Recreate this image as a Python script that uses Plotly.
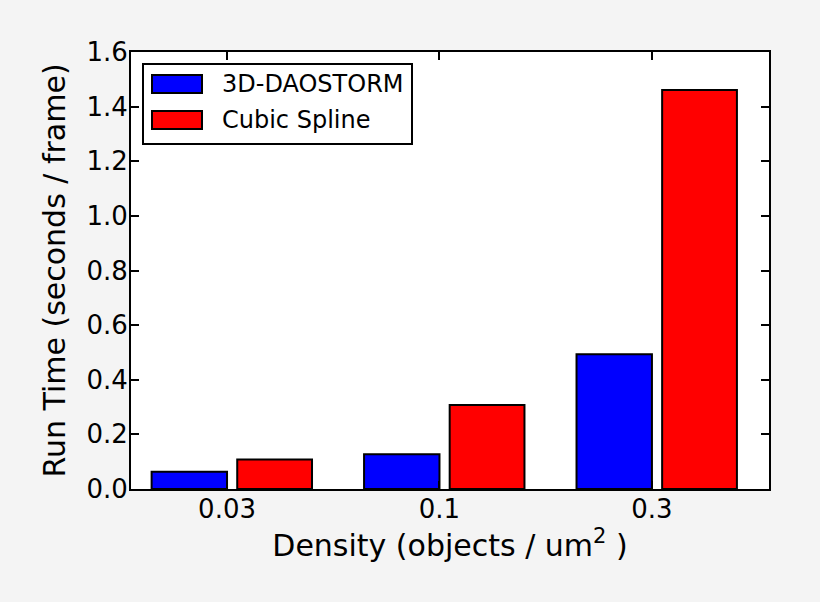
import plotly.graph_objects as go

categories = ["0.03", "0.1", "0.3"]
daostorm = [0.063, 0.127, 0.493]
spline = [0.108, 0.308, 1.461]
series_names = ["3D-DAOSTORM", "Cubic Spline"]
series_colors = ["#0000ff", "#ff0000"]
y_ticks = [0.0, 0.2, 0.4, 0.6, 0.8, 1.0, 1.2, 1.4, 1.6]
x_title = "Density (objects / um<sup>2</sup> )"
y_title = "Run Time (seconds / frame)"

W, H = 820, 602
ML, MR, MT, MB = 131, 51, 52, 113
PW, PH = W - ML - MR, H - MT - MB


def px(xp):
    return (xp - ML) / PW


def py(yp):
    return 1 - (yp - MT) / PH


idx = list(range(len(categories)))
bar_widths = [0.355, 0.352]
offsets = [-0.355, 0.048]

fig = go.Figure()
for name, vals, col, off, bw in zip(series_names, [daostorm, spline], series_colors, offsets, bar_widths):
    fig.add_trace(go.Bar(
        x=idx, y=vals, name=name, width=bw, offset=off,
        marker=dict(color=col, line=dict(color="black", width=2)),
        showlegend=False,
    ))

font_family = "DejaVu Sans"

# legend (box, patches, labels)
shapes = [dict(type="rect", xref="paper", yref="paper",
               x0=px(143), x1=px(412), y0=py(144), y1=py(64),
               fillcolor="white", line=dict(color="black", width=2), layer="above")]
annotations = []
rows = [84, 120]
for name, col, yc in zip(series_names, series_colors, rows):
    shapes.append(dict(type="rect", xref="paper", yref="paper",
                       x0=px(152), x1=px(202), y0=py(yc + 9), y1=py(yc - 9),
                       fillcolor=col, line=dict(color="black", width=2), layer="above"))
    annotations.append(dict(xref="paper", yref="paper", x=px(220), y=py(yc),
                            xanchor="left", yanchor="middle", showarrow=False,
                            text=name, font=dict(size=24, family=font_family, color="black")))

fig.update_layout(
    width=W, height=H,
    margin=dict(l=ML, r=MR, t=MT, b=MB),
    paper_bgcolor="#f4f4f4",
    plot_bgcolor="white",
    font=dict(family=font_family, color="black", size=26),
    barmode="overlay",
    showlegend=False,
    shapes=shapes,
    annotations=annotations,
    xaxis=dict(
        range=[-0.452, 2.551],
        tickvals=idx, ticktext=categories,
        ticks="inside", ticklen=8, tickwidth=2, tickcolor="black",
        showline=True, linecolor="black", linewidth=2, mirror="ticks",
        showgrid=False, zeroline=False,
        tickfont=dict(size=26),
        ticklabelstandoff=-4,
        title=dict(text=x_title, font=dict(size=30), standoff=10),
    ),
    yaxis=dict(
        range=[0, 1.6],
        tickvals=y_ticks, tickformat=".1f",
        ticks="inside", ticklen=8, tickwidth=2, tickcolor="black",
        showline=True, linecolor="black", linewidth=2, mirror="ticks",
        showgrid=False, zeroline=False,
        tickfont=dict(size=26),
        ticklabelstandoff=-4,
        title=dict(text=y_title, font=dict(size=30), standoff=12),
    ),
)

fig.write_html(
    "out.html",
    config={"displayModeBar": False},
    post_script="document.body.style.margin='0';document.body.style.background='#f4f4f4';",
)
